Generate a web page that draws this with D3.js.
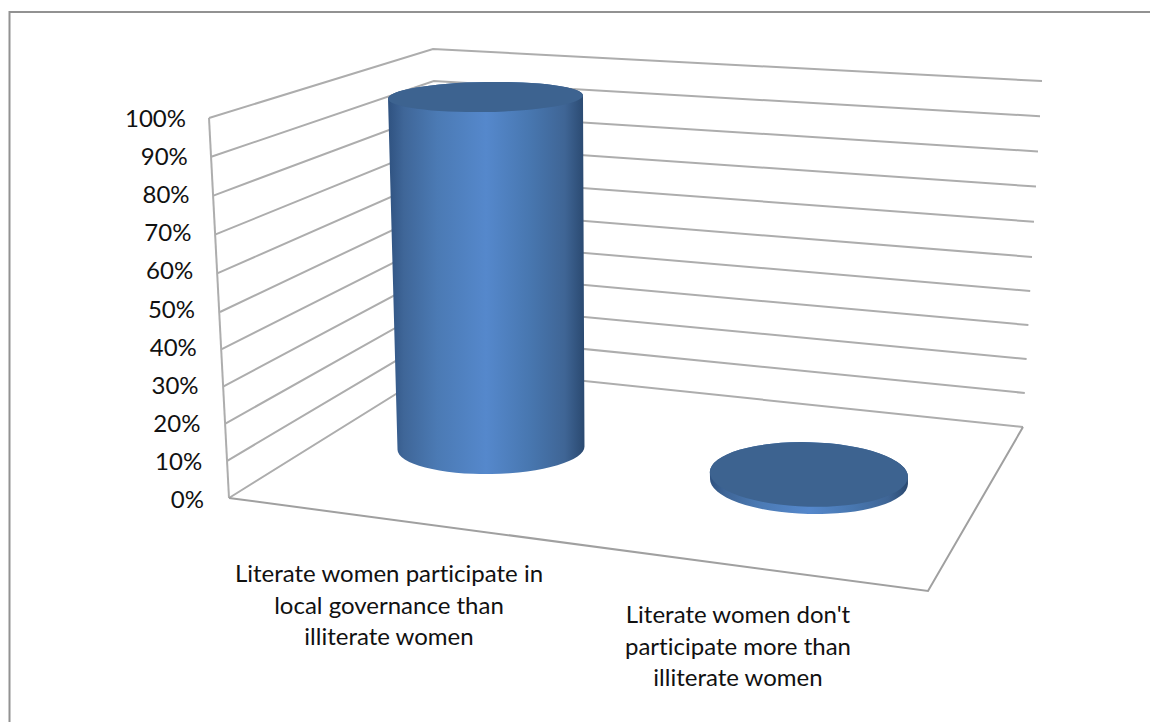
<!DOCTYPE html>
<html>
<head>
<meta charset="utf-8">
<title>Literate women in local governance</title>
<script src="https://cdnjs.cloudflare.com/ajax/libs/d3/7.8.5/d3.min.js"></script>
<style>
	html, body { margin: 0; padding: 0; background: #fff; }
	svg { display: block; }
	text { font-family: Lato, "Open Sans", sans-serif; fill: #111; font-variant-ligatures: none; }
</style>
</head>
<body>
<div id="chart"></div>
<script>
// Chart data
var categories = [
	"Literate women participate in local governance than illiterate women",
	"Literate women don't participate more than illiterate women"
];
var categoryLines = [
	["Literate women participate in", "local governance than", "illiterate women"],
	["Literate women don't", "participate more than", "illiterate women"]
];
var values = [100, 2];
var tickValues = [0, 10, 20, 30, 40, 50, 60, 70, 80, 90, 100];
var tickLabels = ["0%", "10%", "20%", "30%", "40%", "50%", "60%", "70%", "80%", "90%", "100%"];

var svgWidth = 1150, svgHeight = 722;

var svg = d3.select("#chart").append("svg")
	.attr("width", svgWidth)
	.attr("height", svgHeight)
	.attr("viewBox", "0 0 " + svgWidth + " " + svgHeight);

// Outer chart border, only the top and left sides show
svg.append("path")
	.attr("d", "M9.5,722V12H1150")
	.attr("fill", "none")
	.attr("stroke", "#929292")
	.attr("stroke-width", 2);

// The value axis has three projected edges: left wall, back corner, right end.
// Three stops per scale because the perspective stretches the upper half a bit.
var pctDomain = [0, 50, 100];
var leftX = d3.scaleLinear().domain(pctDomain).range([229, 220, 209]);
var leftY = d3.scaleLinear().domain(pctDomain).range([498, 312, 118]);
var backX = d3.scaleLinear().domain(pctDomain).range([441, 437, 433]);
var backY = d3.scaleLinear().domain(pctDomain).range([366, 209, 49]);
var rightX = d3.scaleLinear().domain(pctDomain).range([1023, 1032, 1042]);
var rightY = d3.scaleLinear().domain(pctDomain).range([427, 257, 81]);

var line = d3.line();
var walls = svg.append("g").attr("class", "walls")
	.attr("fill", "none")
	.attr("stroke", "#adadad")
	.attr("stroke-width", 2);

// Gridlines bend round the back corner
walls.selectAll(".grid")
	.data(tickValues)
	.enter().append("path")
	.attr("class", "grid")
	.attr("d", function(d){
		return line([[leftX(d), leftY(d)], [backX(d), backY(d)], [rightX(d), rightY(d)]]);
	});

// Left wall edge and the open sides of the floor
var floorCorner = [928, 591];
walls.append("path").attr("d", line([[leftX(0), leftY(0)], [leftX(100), leftY(100)]]));
walls.append("path")
	.attr("stroke", "#a0a0a0")
	.attr("d", line([[leftX(0), leftY(0)], floorCorner, [rightX(0), rightY(0)]]));

// Value labels follow the slant of the left wall
var labelX = d3.scaleLinear().domain([0, 100]).range([204, 186]);
var labelY = d3.scaleLinear().domain([0, 100]).range([508, 127]);

svg.append("g").attr("class", "y-labels")
	.selectAll("text")
	.data(tickValues)
	.enter().append("text")
	.attr("x", function(d){ return labelX(d); })
	.attr("y", function(d){ return labelY(d); })
	.attr("text-anchor", "end")
	.attr("font-size", 24)
	.text(function(d, i){ return tickLabels[i]; });

// Cylinder gradient
var gradient = svg.append("defs").append("linearGradient")
	.attr("id", "cylinder-side")
	.attr("x1", "0%").attr("x2", "100%")
	.attr("y1", "0%").attr("y2", "0%");

[[0, "#2f5280"], [0.08, "#3f6698"], [0.25, "#4b7ab4"], [0.5, "#5588cc"],
 [0.72, "#4877b0"], [0.9, "#3f6595"], [1, "#2a4970"]].forEach(function(s){
	gradient.append("stop").attr("offset", s[0]).attr("stop-color", s[1]);
});

// Floor position and ellipse size of each cylinder base
var baseX = d3.scalePoint().domain(categories).range([491, 809]);
var baseY = d3.scalePoint().domain(categories).range([448, 481.5]);
var baseRx = d3.scalePoint().domain(categories).range([93.5, 99]);
var baseRy = d3.scalePoint().domain(categories).range([26, 32.5]);
var tilt = d3.scalePoint().domain(categories).range([-1, 1.5]);

// What a cylinder's top does as it rises towards the camera
var barHeight = d3.scaleLinear().domain([0, 100]).range([0, 351]);
var topShiftX = d3.scaleLinear().domain([0, 100]).range([0, -5.5]);
var topGrowRx = d3.scaleLinear().domain([0, 100]).range([0, 4]);
var topGrowRy = d3.scaleLinear().domain([0, 100]).range([0, -11]);

var bars = categories.map(function(c, i){
	var v = values[i];
	return {
		x0: baseX(c), y0: baseY(c), rx0: baseRx(c), ry0: baseRy(c), tilt: tilt(c),
		x1: baseX(c) + topShiftX(v),
		y1: baseY(c) - barHeight(v),
		rx1: baseRx(c) + topGrowRx(v),
		ry1: baseRy(c) + topGrowRy(v)
	};
});

function sidePath(b){
	var a = b.tilt * Math.PI / 180, cos = Math.cos(a), sin = Math.sin(a);
	return "M" + (b.x1 - b.rx1 * cos) + "," + (b.y1 - b.rx1 * sin) +
		"L" + (b.x0 - b.rx0 * cos) + "," + (b.y0 - b.rx0 * sin) +
		"A" + b.rx0 + "," + b.ry0 + " " + b.tilt + " 0 0 " + (b.x0 + b.rx0 * cos) + "," + (b.y0 + b.rx0 * sin) +
		"L" + (b.x1 + b.rx1 * cos) + "," + (b.y1 + b.rx1 * sin) +
		"A" + b.rx1 + "," + b.ry1 + " " + b.tilt + " 0 0 " + (b.x1 - b.rx1 * cos) + "," + (b.y1 - b.rx1 * sin) + "Z";
}

var barGroups = svg.append("g").attr("class", "bars")
	.selectAll("g")
	.data(bars)
	.enter().append("g");

barGroups.append("path")
	.attr("d", sidePath)
	.attr("fill", "url(#cylinder-side)");

barGroups.append("ellipse")
	.attr("rx", function(d){ return d.rx1; })
	.attr("ry", function(d){ return d.ry1; })
	.attr("transform", function(d){ return "translate(" + d.x1 + "," + d.y1 + ") rotate(" + d.tilt + ")"; })
	.attr("fill", "#3d6390");

// Category labels, three lines each
var catLabelX = d3.scalePoint().domain(categories).range([389, 738]);
var catLabelY = d3.scalePoint().domain(categories).range([582, 623]);
var lineStep = 31.7;

svg.append("g").attr("class", "x-labels")
	.selectAll("text")
	.data(categories)
	.enter().append("text")
	.attr("text-anchor", "middle")
	.attr("font-size", 24)
	.selectAll("tspan")
	.data(function(d, i){
		return categoryLines[i].map(function(t){ return {cat: d, text: t}; });
	})
	.enter().append("tspan")
	.attr("x", function(d){ return catLabelX(d.cat); })
	.attr("y", function(d, i){ return catLabelY(d.cat) + i * lineStep; })
	.text(function(d){ return d.text; });
</script>
</body>
</html>
